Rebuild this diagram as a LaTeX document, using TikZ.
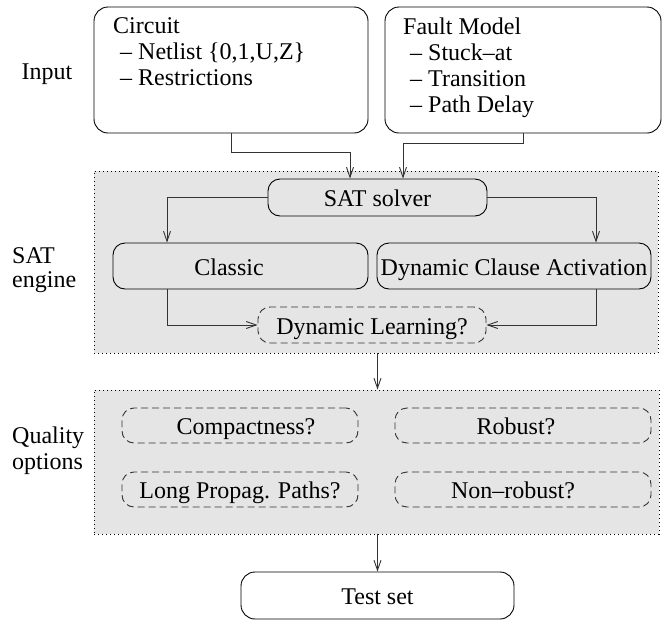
\documentclass[tikz,border=0pt]{standalone}
\usepackage{fontspec}
\setmainfont{Liberation Serif}
\usetikzlibrary{arrows.meta}
\tikzset{
  every node/.style={font=\fontsize{24}{26}\selectfont, inner sep=0pt},
  panel/.style={draw=black, fill=black!10, line width=0.9pt, dash pattern=on 1pt off 3pt},
  inbox/.style={draw=black, fill=white, line width=0.9pt, rounded corners=14pt},
  stage/.style={draw=black, line width=0.9pt, rounded corners=12pt, text height=18pt, text depth=0pt},
  option/.style={draw=black!80, line width=0.9pt, dash pattern=on 7pt off 4pt, rounded corners=12pt, text height=18pt, text depth=0pt},
  conn/.style={draw=black!80, line width=0.9pt, -{Straight Barb[length=10pt,width=7pt]}},
}
\begin{document}
\begin{tikzpicture}[x=1pt,y=-1pt]
\useasboundingbox (0,0) rectangle (662,627);

% shaded group panels
\node[panel, minimum width=564pt, minimum height=182pt] (engine) at (376,262) {};
\node[panel, minimum width=565pt, minimum height=144pt] (quality) at (376.5,462) {};

% input boxes
\node[inbox, minimum width=274pt, minimum height=126pt] (circuit) at (231,70) {};
\node[inbox, minimum width=276pt, minimum height=126pt] (fault) at (523,70) {};
\node[anchor=north west, align=left] (circuittext) at (113,17.6)
  {Circuit\\\hspace*{7pt}-- Netlist \{0,1,U,Z\}\\\hspace*{7pt}-- Restrictions};
\node[anchor=north west, align=left] (faulttext) at (403,17.6)
  {Fault Model\\\hspace*{7pt}-- Stuck--at\\\hspace*{7pt}-- Transition\\\hspace*{7pt}-- Path Delay};

% row labels
\node[anchor=base] (inputlabel) at (47,79) {Input};
\node[anchor=base west] (satlabel) at (12,263) {SAT};
\node[anchor=base west] (enginelabel) at (12,287) {engine};
\node[anchor=base west] (qualitylabel) at (12,443) {Quality};
\node[anchor=base west] (optionslabel) at (12,469) {options};

% SAT engine
\node[stage, minimum width=219pt, minimum height=37pt] (solver) at (377.5,197.5) {SAT solver};
\node[stage, minimum width=255pt, minimum height=46pt] (classic) at (240.5,266) {Classic\hspace*{23pt}};
\node[stage, minimum width=274pt, minimum height=46pt] (dca) at (514,266) {Dynamic Clause Activation};
\node[option, minimum width=228pt, minimum height=36pt] (learn) at (372,325) {Dynamic Learning?};

% quality options
\node[option, minimum width=236pt, minimum height=35pt] (compact) at (240,425.5) {\hspace*{12pt}Compactness?};
\node[option, minimum width=256pt, minimum height=35pt] (robust) at (523,425.5) {Robust?\hspace*{14pt}};
\node[option, minimum width=236pt, minimum height=35pt] (longpath) at (240,489.5) {Long Propag. Paths?};
\node[option, minimum width=256pt, minimum height=35pt] (nonrobust) at (523,489.5) {Non--robust?\hspace*{20pt}};

% output
\node[inbox, text height=18pt, text depth=0pt, minimum width=273pt, minimum height=47pt] (testset) at (377.5,595.5) {Test set};

% connectors
\draw[conn] (circuit.south) -- ++(0,19) -| ([xshift=-27.5pt]solver.north);
\draw[conn] (fault.south) -- ++(0,10) -| ([xshift=25.5pt]solver.north);
\draw[conn] (solver.west) -| ([xshift=-73.5pt]classic.north);
\draw[conn] (solver.east) -| ([xshift=82pt]dca.north);
\draw[conn] ([xshift=-73.5pt]classic.south) |- (learn.west);
\draw[conn] ([xshift=82pt]dca.south) |- (learn.east);
\draw[conn] (engine.south -| testset.north) -- (quality.north -| testset.north);
\draw[conn] (quality.south -| testset.north) -- (testset.north);
\end{tikzpicture}
\end{document}
